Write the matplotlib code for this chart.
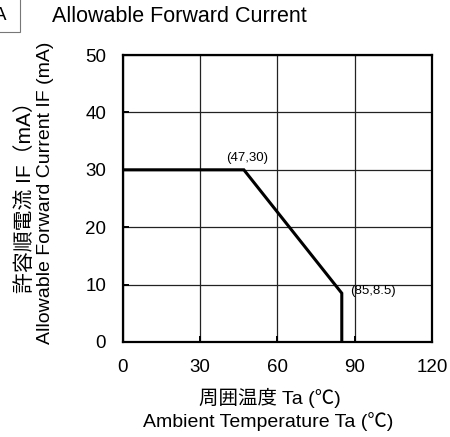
import matplotlib
matplotlib.use("Agg")
import matplotlib.pyplot as plt
from matplotlib.patches import Rectangle

FAM = ['Liberation Sans', 'Noto Sans CJK JP', 'DejaVu Sans']
plt.rcParams['font.family'] = FAM

# Data
temp = [0, 47, 85, 85]
current = [30, 30, 8.5, 0]
xticks = [0, 30, 60, 90, 120]
yticks = [0, 10, 20, 30, 40, 50]
annotations = [("(47,30)", 47, 30), ("(85,8.5)", 85, 8.5)]

W, H = 450, 437
fig = plt.figure(figsize=(W / 100, H / 100), dpi=100)
ax = fig.add_axes([122.7 / W, 1 - 342 / H, (432 - 122.7) / W, (342 - 55) / H])

ax.plot(temp, current, color='black', lw=2.2, solid_joinstyle='miter', zorder=3)
ax.set_xlim(0, 120)
ax.set_ylim(0, 50)
ax.set_xticks(xticks)
ax.set_yticks(yticks)
ax.grid(True, color='#222222', lw=0.9)
for s in ax.spines.values():
    s.set_linewidth(1.6)
    s.set_color('black')
ax.tick_params(direction='in', length=4, width=1.4, labelsize=13.5, pad=12)
ax.tick_params(axis='x', pad=12)

# annotations
ax.text(annotations[0][1] + 1.3, annotations[0][2] + 1.0, annotations[0][0],
        fontsize=9.5, ha='center', va='bottom')
ax.text(annotations[1][1] + 3.3, annotations[1][2] + 0.3, annotations[1][0],
        fontsize=9.5, ha='left', va='center')

# Axis labels
fig.text(25 / W, 1 - 192 / H, "許容順電流 IF（mA）", rotation=90, ha='center', va='center', fontsize=15)
fig.text(46 / W, 1 - 192.5 / H, "Allowable Forward Current IF (mA)", rotation=90, ha='center', va='center', fontsize=14)
fig.text(270 / W, 1 - 398 / H, "周囲温度 Ta (℃)", ha='center', va='center', fontsize=14)
fig.text(268 / W, 1 - 421.5 / H, "Ambient Temperature Ta (℃)", ha='center', va='center', fontsize=14)

# Title
fig.text(52 / W, 1 - 16 / H, "Allowable Forward Current", ha='left', va='center', fontsize=15.5)

# Cut box with "A"
fig.patches.append(Rectangle((-20 / W, 1 - 32 / H), 40 / W, 40 / H, transform=fig.transFigure,
                             fill=False, edgecolor='#777777', lw=0.8))
fig.text(6 / W, 1 - 16 / H, "A", ha='right', va='center', fontsize=13.5)

fig.savefig("out.png", dpi=100)
